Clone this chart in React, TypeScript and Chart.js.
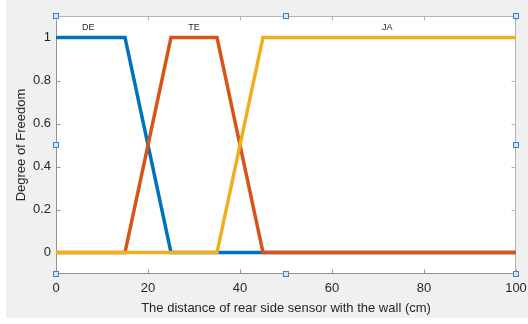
import React, { useEffect, useRef } from 'react';
import { Chart, registerables } from 'chart.js';
Chart.register(...registerables);

const xDE = [0, 15, 25, 100];
const yDE = [1, 1, 0, 0];
const xTE = [0, 15, 25, 35, 45, 100];
const yTE = [0, 0, 1, 1, 0, 0];
const xJA = [0, 35, 45, 100];
const yJA = [0, 0, 1, 1];
const xTicks = [0, 20, 40, 60, 80, 100];
const yTicks = [0, 0.2, 0.4, 0.6, 0.8, 1];
const mfLabels = ['DE', 'TE', 'JA'];
const mfLabelX = [7, 30, 72];
const mfLabelY = 1.045;
const xTitle = 'The distance of rear side sensor with the wall (cm)';
const yTitle = 'Degree of Freedom';

const TEXT = '#262626';
const AXIS_DARK = '#939393';
const AXIS_LIGHT = '#b4b4b4';

const toPts = (xs: number[], ys: number[]) => xs.map((x, i) => ({ x, y: ys[i] }));

const decor = {
  id: 'matlabDecor',
  beforeDraw(chart: any) {
    const { ctx, width, height, chartArea } = chart;
    ctx.save();
    ctx.fillStyle = '#ffffff';
    ctx.fillRect(0, 0, width, height);
    ctx.fillStyle = '#f0f0f0';
    ctx.fillRect(6, 0, width - 6, height - 6);
    ctx.fillStyle = '#ffffff';
    ctx.fillRect(chartArea.left, chartArea.top, chartArea.right - chartArea.left, chartArea.bottom - chartArea.top);
    ctx.restore();
  },
  beforeDatasetsDraw(chart: any) {
    const { ctx, chartArea } = chart;
    const xs = chart.scales.x;
    const ys = chart.scales.y;
    const L = Math.round(chartArea.left) + 0.5;
    const R = Math.round(chartArea.right) - 0.5;
    const T = Math.round(chartArea.top) + 0.5;
    const B = Math.round(chartArea.bottom) - 0.5;
    ctx.save();
    ctx.lineWidth = 1;
    ctx.strokeStyle = AXIS_LIGHT;
    ctx.beginPath();
    ctx.moveTo(L, T); ctx.lineTo(R, T); ctx.lineTo(R, B);
    ctx.stroke();
    ctx.strokeStyle = AXIS_DARK;
    ctx.beginPath();
    ctx.moveTo(L, T); ctx.lineTo(L, B); ctx.lineTo(R, B);
    ctx.stroke();
    const tl = 4;
    ctx.beginPath();
    xTicks.forEach((v) => {
      const p = Math.round(xs.getPixelForValue(v)) + 0.5;
      ctx.moveTo(p, B); ctx.lineTo(p, B - tl);
    });
    yTicks.forEach((v) => {
      const p = Math.round(ys.getPixelForValue(v)) + 0.5;
      ctx.moveTo(L, p); ctx.lineTo(L + tl, p);
    });
    ctx.stroke();
    ctx.strokeStyle = AXIS_LIGHT;
    ctx.beginPath();
    xTicks.forEach((v) => {
      const p = Math.round(xs.getPixelForValue(v)) + 0.5;
      ctx.moveTo(p, T); ctx.lineTo(p, T + tl);
    });
    yTicks.forEach((v) => {
      const p = Math.round(ys.getPixelForValue(v)) + 0.5;
      ctx.moveTo(R, p); ctx.lineTo(R - tl, p);
    });
    ctx.stroke();
    ctx.restore();
  },
  afterDatasetsDraw(chart: any) {
    const { ctx } = chart;
    const xs = chart.scales.x;
    const ys = chart.scales.y;
    ctx.save();
    ctx.fillStyle = TEXT;
    ctx.font = '9px "Liberation Sans", Arial, sans-serif';
    ctx.textAlign = 'center';
    ctx.textBaseline = 'middle';
    mfLabels.forEach((t, i) => {
      ctx.fillText(t, xs.getPixelForValue(mfLabelX[i]), ys.getPixelForValue(mfLabelY));
    });
    ctx.restore();
  },
  afterDraw(chart: any) {
    const { ctx, chartArea } = chart;
    const L = Math.round(chartArea.left);
    const R = Math.round(chartArea.right);
    const T = Math.round(chartArea.top);
    const B = Math.round(chartArea.bottom);
    const MX = Math.round((L + R) / 2);
    const MY = Math.round((T + B) / 2);
    const pts = [
      [L, T], [MX, T], [R, T],
      [L, MY], [R, MY],
      [L, B], [MX, B], [R, B],
    ];
    ctx.save();
    pts.forEach(([px, py]) => {
      ctx.fillStyle = '#d6e6f5';
      ctx.fillRect(px - 2.5, py - 2.5, 5, 5);
      ctx.strokeStyle = '#3c82c4';
      ctx.lineWidth = 1;
      ctx.strokeRect(px - 2.5, py - 2.5, 5, 5);
    });
    ctx.restore();
  },
};

export default function App() {
  const ref = useRef<HTMLCanvasElement>(null);
  useEffect(() => {
    if (!ref.current) return;
    Chart.defaults.font.family = '"Liberation Sans", Arial, sans-serif';
    const chart = new Chart(ref.current, {
      type: 'line',
      data: {
        datasets: [
          { label: 'JA', data: toPts(xJA, yJA), borderColor: '#EDB120', backgroundColor: '#EDB120', borderWidth: 3.5, pointRadius: 0, fill: false, tension: 0 },
          { label: 'TE', data: toPts(xTE, yTE), borderColor: '#D95319', backgroundColor: '#D95319', borderWidth: 3.5, pointRadius: 0, fill: false, tension: 0 },
          { label: 'DE', data: toPts(xDE, yDE), borderColor: '#0072BD', backgroundColor: '#0072BD', borderWidth: 3.5, pointRadius: 0, fill: false, tension: 0 },
        ],
      },
      options: {
        responsive: false,
        animation: false,
        layout: { padding: { left: 0, top: 16, right: 12, bottom: 0 } },
        plugins: { legend: { display: false }, tooltip: { enabled: false } },
        scales: {
          x: {
            type: 'linear',
            min: 0,
            max: 100,
            afterBuildTicks: (s: any) => { s.ticks = xTicks.map((v) => ({ value: v })); },
            afterFit: (s: any) => { s.height = 50; s.paddingLeft = 0; s.paddingRight = 0; },
            grid: { display: false, drawTicks: false, tickLength: 0 },
            border: { display: false },
            ticks: { color: TEXT, font: { size: 13 }, padding: 7, maxRotation: 0, autoSkip: false, callback: (v: any) => String(v) },
            title: { display: true, text: xTitle, color: TEXT, font: { size: 13 }, padding: { top: 0, bottom: 8 } },
          },
          y: {
            type: 'linear',
            min: -0.1,
            max: 1.1,
            afterBuildTicks: (s: any) => { s.ticks = yTicks.map((v) => ({ value: v })); },
            afterFit: (s: any) => { s.width = 56; s.paddingTop = 0; s.paddingBottom = 0; },
            grid: { display: false, drawTicks: false, tickLength: 0 },
            border: { display: false },
            ticks: { color: TEXT, font: { size: 13 }, padding: 5, autoSkip: false, callback: (v: any) => String(Math.round(v * 10) / 10) },
            title: { display: true, text: yTitle, color: TEXT, font: { size: 13 }, padding: { top: 14, bottom: 0 } },
          },
        },
      },
      plugins: [decor],
    });
    return () => chart.destroy();
  }, []);
  return (
    <div style={{ position: 'fixed', left: 0, top: 0, width: 528, height: 324 }}>
      <canvas ref={ref} width={528} height={324} style={{ display: 'block' }} />
    </div>
  );
}
